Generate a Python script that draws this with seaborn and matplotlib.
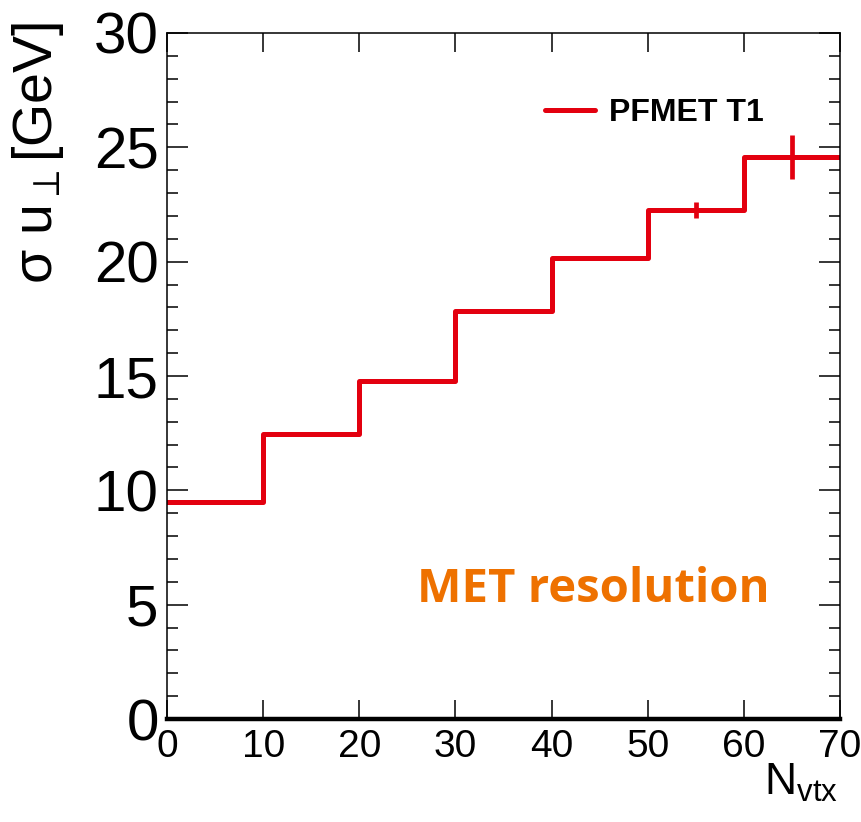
import numpy as np
import pandas as pd
import seaborn as sns
import matplotlib
matplotlib.use("Agg")
import matplotlib.pyplot as plt
from matplotlib.ticker import MultipleLocator

# ---- data ----
bin_edges = [0, 10, 20, 30, 40, 50, 60, 70]
bin_centers = [5, 15, 25, 35, 45, 55, 65]
sigma_uperp = [9.49, 12.46, 14.78, 17.84, 20.16, 22.26, 24.57]
sigma_err = [0.10, 0.05, 0.05, 0.05, 0.10, 0.33, 0.96]
series_label = "PFMET T1"
annotation = "MET resolution"

df = pd.DataFrame({"nvtx": bin_centers, "sigma": sigma_uperp, "err": sigma_err})

sns.set_theme(style="ticks")
plt.rcParams["font.family"] = ["Liberation Sans", "DejaVu Sans"]
plt.rcParams["mathtext.fontset"] = "custom"
plt.rcParams["mathtext.rm"] = "Liberation Sans"
plt.rcParams["mathtext.it"] = "Liberation Sans:italic"
plt.rcParams["mathtext.bf"] = "Liberation Sans:bold"
for k in ["text.color", "axes.labelcolor", "xtick.color", "ytick.color",
          "xtick.labelcolor", "ytick.labelcolor", "axes.edgecolor"]:
    plt.rcParams[k] = "black"

RED = "#E3000F"
W, H = 862, 822
fig = plt.figure(figsize=(W / 100, H / 100), dpi=100)
fig.patch.set_facecolor("white")
ax = fig.add_axes([167 / W, (H - 719) / H, (840 - 167) / W, (719 - 33) / H])
ax.set_facecolor("white")

sns.histplot(data=df, x="nvtx", weights="sigma", bins=bin_edges, element="step",
             fill=False, color=RED, linewidth=3.6, ax=ax, label=series_label)
ax.errorbar(df["nvtx"], df["sigma"], yerr=df["err"], fmt="none", ecolor=RED,
            elinewidth=3.4, capsize=0)

ax.set_xlim(0, 70)
ax.set_ylim(0, 30)
ax.xaxis.set_major_locator(MultipleLocator(10))
ax.yaxis.set_major_locator(MultipleLocator(5))
ax.yaxis.set_minor_locator(MultipleLocator(1))

for s in ["left", "top", "right"]:
    ax.spines[s].set_linewidth(1.1)
    ax.spines[s].set_color("black")
    ax.spines[s].set_visible(True)
ax.spines["bottom"].set_linewidth(3.2)
ax.spines["bottom"].set_color("black")

ax.tick_params(axis="both", which="both", direction="in", top=True, right=True,
               color="black", labelcolor="black", width=1.1)
ax.tick_params(axis="y", which="major", length=15, labelsize=42, pad=6)
ax.tick_params(axis="y", which="minor", length=8)
ax.tick_params(axis="x", which="major", length=14, labelsize=28, pad=7)
ax.tick_params(axis="x", which="minor", length=0)

ax.set_xlabel(r"N$_{\mathregular{vtx}}$", fontsize=32, loc="right", color="black")
ax.xaxis.set_label_coords(0.997, -0.062)
ax.set_ylabel(r"σ $\mathregular{u_{\perp}[GeV]}$", fontsize=40, loc="top", color="black")
ax.yaxis.set_label_coords(-0.15, 1.016)

leg = ax.legend(handles=ax.lines[:1], labels=[series_label], frameon=False,
                loc="center left", bbox_to_anchor=(545 / W, (H - 113) / H),
                bbox_transform=fig.transFigure, borderpad=0, borderaxespad=0,
                handlelength=1.55, handletextpad=0.45,
                prop={"family": "Liberation Sans", "weight": "bold", "size": 23})
for t in leg.get_texts():
    t.set_color("black")

ax.text((417 - 167) / 673, (719 - 590) / 686, annotation, transform=ax.transAxes,
        fontsize=34, fontweight="bold", family="Open Sans", color="#EE7100",
        ha="left", va="center")

fig.savefig("out.png", dpi=100, facecolor="white")
